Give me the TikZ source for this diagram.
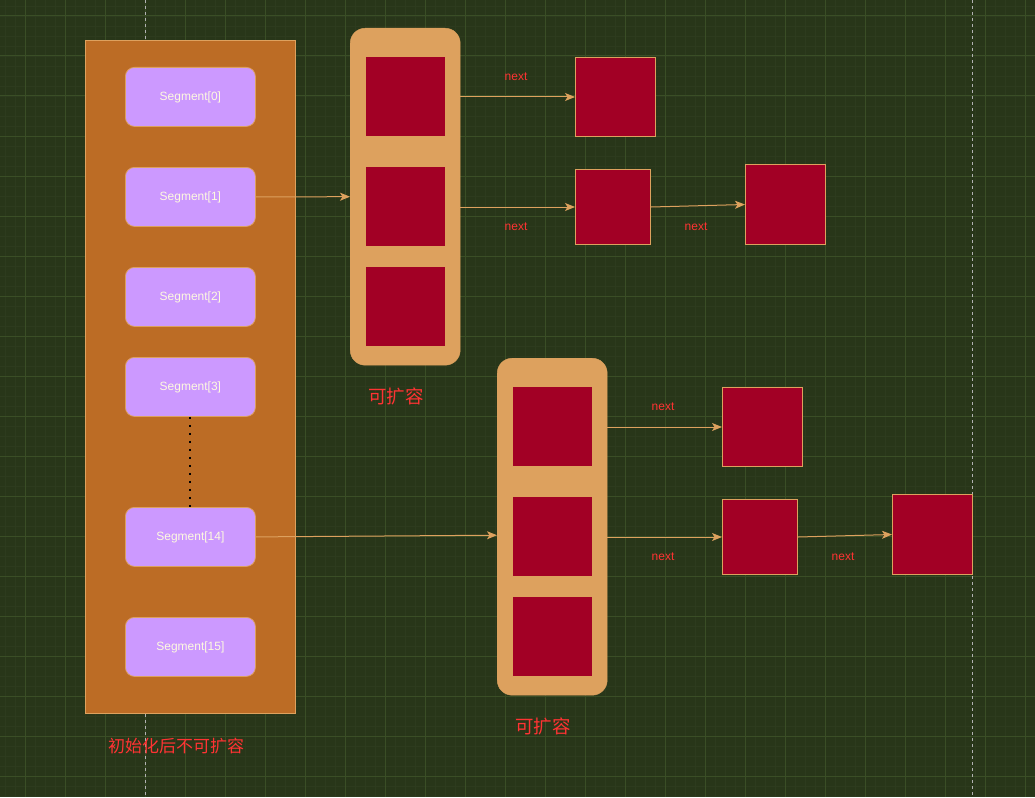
\documentclass[tikz,border=0pt]{standalone}
\usepackage{fontspec}
\setmainfont{Liberation Sans}
\newfontfamily\cjk{Noto Sans CJK SC}
\usetikzlibrary{arrows.meta}
\definecolor{bgc}{HTML}{283619}
\definecolor{gridmaj}{HTML}{3A4E26}
\definecolor{gridmin}{HTML}{2D3B1E}
\definecolor{ochre}{HTML}{BC6C25}
\definecolor{sand}{HTML}{DDA15E}
\definecolor{lav}{HTML}{CC99FF}
\definecolor{crim}{HTML}{A20025}
\definecolor{txtred}{HTML}{FF3333}
\definecolor{cream}{HTML}{FEFAE0}
\tikzset{
  segbox/.style={draw=sand, fill=lav, rounded corners=9pt, minimum width=130pt, minimum height=59pt, anchor=north west, text=cream, font=\fontsize{12}{14}\selectfont, line width=0.8pt, inner sep=0pt},
  bucket/.style={fill=sand, draw=sand, rounded corners=15pt, minimum width=110pt, minimum height=337pt, anchor=north west, inner sep=0pt},
  cell/.style={fill=crim, draw=none, minimum width=79pt, minimum height=79pt, anchor=north west, inner sep=0pt},
  entry/.style={fill=crim, draw=sand, line width=1pt, anchor=north west, inner sep=0pt},
  arr/.style={draw=sand, line width=1pt, -{Stealth[length=10pt,width=8pt,inset=2.5pt]}},
  nextlbl/.style={text=txtred, font=\fontsize{12}{14}\selectfont, inner sep=0pt},
  cnlbl/.style={text=txtred, font=\cjk\fontsize{18.5}{21}\selectfont, inner sep=0pt}
}
\begin{document}
\begin{tikzpicture}[x=1pt,y=-1pt]
\fill[bgc] (0,0) rectangle (1035,797);
\useasboundingbox (0,0) rectangle (1035,797);
\foreach \x in {5,15,...,1035} \draw[gridmin, line width=0.6pt] (\x,0) -- (\x,797);
\foreach \y in {6,16,...,797} \draw[gridmin, line width=0.6pt] (0,\y) -- (1035,\y);
\foreach \x in {25,65,...,1035} \draw[gridmaj, line width=1pt] (\x,0) -- (\x,797);
\foreach \y in {16,56,...,797} \draw[gridmaj, line width=1pt] (0,\y) -- (1035,\y);
\draw[gray!60, dashed, line width=0.8pt] (145,0) -- (145,797);
\draw[gray!60, dashed, line width=0.8pt] (972,0) -- (972,797);

% left array
\node[fill=ochre, draw=sand, line width=1pt, minimum width=210pt, minimum height=673pt, anchor=north west, inner sep=0pt] (arr) at (85,40) {};
\node[segbox] (s0) at (125,67) {Segment[0]};
\node[segbox] (s1) at (125,167) {Segment[1]};
\node[segbox] (s2) at (125,267) {Segment[2]};
\node[segbox] (s3) at (125,357) {Segment[3]};
\node[segbox] (s14) at (125,507) {Segment[14]};
\node[segbox] (s15) at (125,617) {Segment[15]};
\draw[black, line width=2pt, dash pattern=on 2pt off 6pt] (s3.south) -- (s14.north);
\node[cnlbl, font=\cjk\fontsize{17}{20}\selectfont] (lblfix) at (176,746) {初始化后不可扩容};

% bucket 1
\node[bucket] (b1) at (350,28) {};
\node[cell] (c11) at (366,57) {};
\node[cell] (c12) at (366,167) {};
\node[cell] (c13) at (366,267) {};
\node[cnlbl] (lbl1) at (396,396) {可扩容};
\node[entry, minimum width=80pt, minimum height=79pt] (n1) at (575,57) {};
\node[entry, minimum width=75pt, minimum height=75pt] (n2) at (575,169) {};
\node[entry, minimum width=80pt, minimum height=80pt] (n3) at (745,164) {};
\draw[arr] (b1.east |- n1.west) -- (n1.west);
\draw[arr] (b1.east |- n2.west) -- (n2.west);
\draw[arr] (n2.east) -- (n3.west);
\node[nextlbl] (t1) at (516,77) {next};
\node[nextlbl] (t2) at (516,227) {next};
\node[nextlbl] (t3) at (696,227) {next};
\draw[arr] (s1.east) -- (b1.west);

% bucket 2
\node[bucket] (b2) at (497,358) {};
\node[cell] (c21) at (513,387) {};
\node[cell] (c22) at (513,497) {};
\node[cell] (c23) at (513,597) {};
\node[cnlbl] (lbl2) at (543,726) {可扩容};
\node[entry, minimum width=80pt, minimum height=79pt] (m1) at (722,387) {};
\node[entry, minimum width=75pt, minimum height=75pt] (m2) at (722,499) {};
\node[entry, minimum width=80pt, minimum height=80pt] (m3) at (892,494) {};
\draw[arr] (b2.east |- m1.west) -- (m1.west);
\draw[arr] (b2.east |- m2.west) -- (m2.west);
\draw[arr] (m2.east) -- (m3.west);
\node[nextlbl] (u1) at (663,407) {next};
\node[nextlbl] (u2) at (663,557) {next};
\node[nextlbl] (u3) at (843,557) {next};
\draw[arr] (s14.east) -- ([yshift=-8.5pt]b2.west);
\end{tikzpicture}
\end{document}
